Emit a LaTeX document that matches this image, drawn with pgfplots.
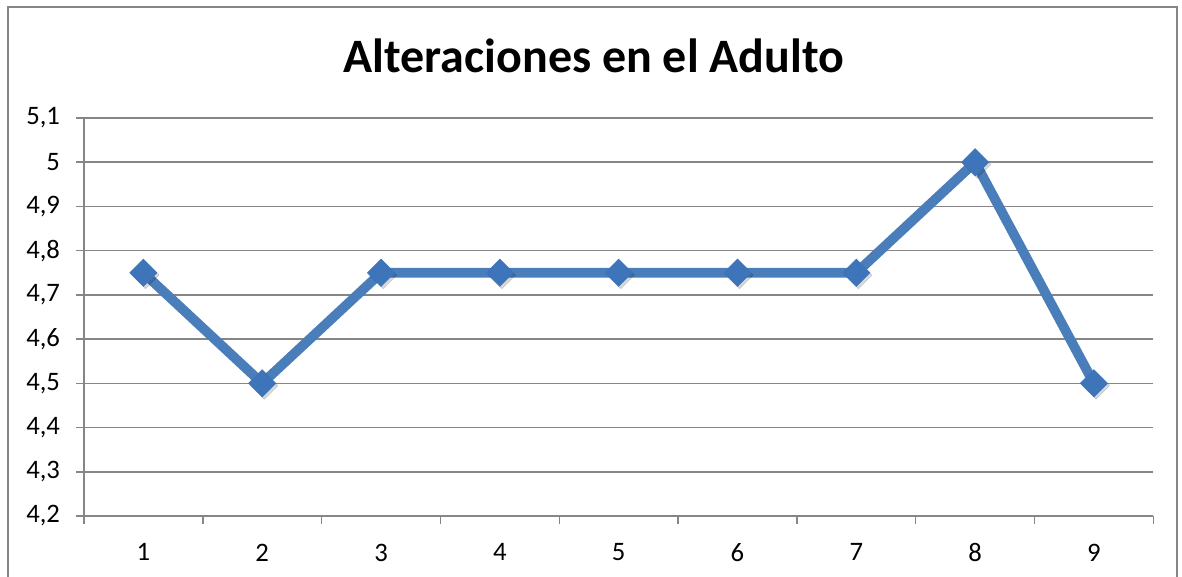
\documentclass[border=0pt]{standalone}
\usepackage{pgfplots}
\pgfplotsset{compat=1.18}
\usetikzlibrary{calc}
\usepackage{fontspec}
\setmainfont{Carlito}
\definecolor{seriesblue}{HTML}{4A7EBB}
\definecolor{markblue}{HTML}{3D74BA}
\definecolor{framegray}{HTML}{868686}

\begin{document}
\begin{tikzpicture}[x=0.75pt,y=0.75pt]
\begin{axis}[
  name=ax, at={(0,0)}, anchor=south west,
  scale only axis, width=802pt, height=298.5pt,
  xmin=0.5, xmax=9.5, ymin=4.2, ymax=5.1,
  clip=false,
  axis x line*=bottom, axis y line*=left,
  axis line style={framegray, line width=1.1pt, -},
  % category boundaries carry the tick marks, the category centres carry the labels
  xtick={0.5,1.5,2.5,3.5,4.5,5.5,6.5,7.5,8.5,9.5},
  xticklabels={},
  extra x ticks={1,2,3,4,5,6,7,8,9},
  extra x tick labels={1,2,3,4,5,6,7,8,9},
  extra x tick style={major tick length=0pt, grid=none},
  ytick={4.2,4.3,4.4,4.5,4.6,4.7,4.8,4.9,5.0,5.1},
  tick align=outside,
  tick style={framegray, line width=1.1pt},
  major tick length=6pt,
  ymajorgrids,
  major grid style={framegray, line width=1.1pt},
  tick label style={font=\fontsize{20}{24}\selectfont},
  /pgf/number format/.cd, use comma, fixed, precision=1, assume math mode=true,
  /pgfplots/.cd,
  xticklabel style={yshift=-17.25pt},
  yticklabel style={xshift=-8.5pt},
]
% soft shadow under the markers
\addplot[only marks, mark=square*, mark size=7.2pt, black, opacity=0.15,
  mark options={rotate=45}, xshift=1.6pt, yshift=-1.8pt]
  coordinates {(1,4.75) (2,4.5) (3,4.75) (4,4.75) (5,4.75) (6,4.75) (7,4.75) (8,5.0) (9,4.5)};
\addplot[seriesblue, line width=7.3pt, line join=miter, mark=square*, mark size=7.2pt,
  mark options={rotate=45, fill=markblue, draw=markblue, line width=0.5pt}]
  coordinates {(1,4.75) (2,4.5) (3,4.75) (4,4.75) (5,4.75) (6,4.75) (7,4.75) (8,5.0) (9,4.5)};
\end{axis}
% page frame measured from the plot area's lower left corner
\begin{scope}[shift={($(ax.south west)+(-84,-61)$)}]
  \pgfresetboundingbox
  \useasboundingbox (0,0) rectangle (1182,577);
  \draw[framegray, line width=1.1pt] (8,-20) -- (8,570) -- (1177,570) -- (1177,-20);
  \node[anchor=base, font=\bfseries\fontsize{36}{42}\selectfont] at (594,504) {Alteraciones en el Adulto};
\end{scope}
\end{tikzpicture}
\end{document}
